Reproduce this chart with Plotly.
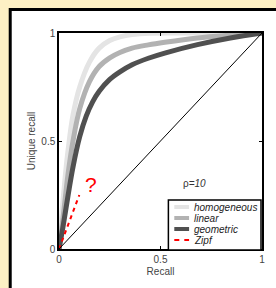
import plotly.graph_objects as go

# ---- data ----
homog_r = [0, 0.013, 0.029, 0.045, 0.069, 0.102, 0.15, 0.198, 0.25, 0.3, 0.36, 0.45, 0.6, 0.8, 1.0]
homog_u = [0, 0.15, 0.32, 0.46, 0.62, 0.75, 0.865, 0.93, 0.965, 0.982, 0.993, 0.999, 1.0, 1.0, 1.0]

linear_r = [0, 0.013, 0.029, 0.045, 0.069, 0.102, 0.15, 0.198, 0.25, 0.3, 0.36, 0.44, 0.521, 0.682, 0.844, 1.0]
linear_u = [0, 0.09, 0.22, 0.35, 0.5, 0.65, 0.775, 0.845, 0.885, 0.91, 0.93, 0.945, 0.957, 0.977, 0.99, 1.0]

geom_r = [0, 0.021, 0.045, 0.069, 0.102, 0.134, 0.165, 0.198, 0.25, 0.3, 0.36, 0.44, 0.521, 0.682, 0.844, 1.0]
geom_u = [0, 0.11, 0.25, 0.38, 0.52, 0.615, 0.68, 0.73, 0.785, 0.82, 0.853, 0.883, 0.907, 0.946, 0.977, 1.0]

zipf_r = [0, 0.1]
zipf_u = [0, 0.25]

diag_r = [0, 1]
diag_u = [0, 1]

series_names = ["homogeneous", "linear", "geometric", "Zipf"]
series_colors = ["#e4e4e4", "#b2b2b2", "#505050", "#ff0000"]
series_widths = [5, 5, 5, 2]
series_dash = ["solid", "solid", "solid", "4px,4px"]

tick_vals = [0, 0.5, 1]
tick_text = ["0", "0.5", "1"]

FONT = "Liberation Sans, Arial, sans-serif"
CREAM = "#fdf0c4"

fig = go.Figure()
xs = [homog_r, linear_r, geom_r, zipf_r]
ys = [homog_u, linear_u, geom_u, zipf_u]
for i in range(4):
    fig.add_trace(go.Scatter(
        x=xs[i], y=ys[i], mode="lines", name=series_names[i],
        line=dict(color=series_colors[i], width=series_widths[i],
                  dash=series_dash[i], shape="spline" if i < 3 else "linear",
                  smoothing=1.0 if i < 3 else None),
        showlegend=False, hoverinfo="skip"))
fig.add_trace(go.Scatter(x=diag_r, y=diag_u, mode="lines",
                         line=dict(color="black", width=1), showlegend=False,
                         hoverinfo="skip"))

# plot-area geometry in pixels (for converting layout decorations)
L, R, T, B = 59, 265, 33, 249
W, H = R - L, B - T
def px(xp):
    return (xp - L) / W
def py(yp):
    return (B - yp) / H

shapes = []
# white panel with black frame on cream page
shapes.append(dict(type="rect", xref="paper", yref="paper",
                   x0=px(9.5), x1=px(300), y0=py(300), y1=py(9.5),
                   line=dict(color="black", width=3), fillcolor="white",
                   layer="below"))

# legend box
shapes.append(dict(type="rect", xref="paper", yref="paper",
                   x0=px(170), x1=px(264), y0=py(250), y1=py(200),
                   line=dict(color="black", width=1.5), fillcolor="white",
                   layer="above"))
annotations = []
entry_y = [207, 218, 229, 240]
for i in range(4):
    shapes.append(dict(type="line", xref="paper", yref="paper",
                       x0=px(176), x1=px(191), y0=py(entry_y[i]), y1=py(entry_y[i]),
                       line=dict(color=series_colors[i], width=series_widths[i] - (1 if i < 3 else 0),
                                 dash="5px,5px" if i == 3 else "solid"),
                       layer="above"))
    annotations.append(dict(xref="paper", yref="paper", x=px(194), y=py(entry_y[i]),
                            text=series_names[i], showarrow=False, xanchor="left",
                            yanchor="middle",
                            font=dict(family=FONT, size=10, color="#222", style="italic")))

annotations.append(dict(x=0.158, y=0.30, xref="x", yref="y", text="?", showarrow=False,
                        font=dict(family=FONT, size=21, color="red")))
annotations.append(dict(x=0.668, y=0.305, xref="x", yref="y", text="ρ<i>=10</i>",
                        showarrow=False, font=dict(family=FONT, size=10, color="#333")))

axis_common = dict(range=[0, 1], tickvals=tick_vals, ticktext=tick_text,
                   ticks="inside", ticklen=3, tickcolor="black", tickwidth=1,
                   showline=True, linecolor="black", linewidth=1.5, mirror="ticks",
                   showgrid=False, zeroline=False,
                   tickfont=dict(family=FONT, size=10, color="#444"))

fig.update_layout(
    width=276, height=288,
    margin=dict(l=L, r=276 - R, t=T, b=288 - B),
    paper_bgcolor=CREAM, plot_bgcolor="white",
    xaxis=dict(**axis_common, title=dict(text="Recall", standoff=4,
                                          font=dict(family=FONT, size=10, color="#444"))),
    yaxis=dict(**axis_common, title=dict(text="Unique recall", standoff=4,
                                          font=dict(family=FONT, size=10, color="#444"))),
    shapes=shapes, annotations=annotations, showlegend=False,
)

fig.write_html("out.html",
               config={"displayModeBar": False},
               post_script="document.body.style.margin='0';"
                           "document.body.style.background='" + CREAM + "';"
                           "document.body.style.overflow='hidden';")
